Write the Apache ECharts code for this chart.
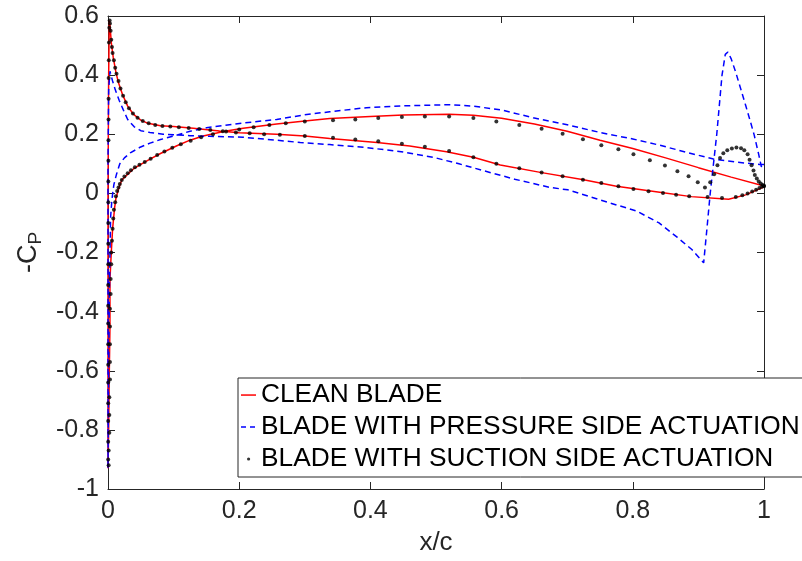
<!DOCTYPE html>
<html>
<head>
<meta charset="utf-8">
<script src="https://cdn.jsdelivr.net/npm/echarts@6/dist/echarts.min.js"></script>
<style>
  html, body { margin: 0; padding: 0; background: #fff; }
  #chart { width: 802px; height: 561px; }
</style>
</head>
<body>
<div id="chart"></div>
<script>
// -Cp along the chord, each branch runs leading edge -> trailing edge, pairs are [x/c, -Cp]
const seriesNames = ['CLEAN BLADE', 'BLADE WITH PRESSURE SIDE ACTUATION', 'BLADE WITH SUCTION SIDE ACTUATION'];

// clean blade: branch that rises from stagnation and ends as the upper curve
const cleanTop = [
  [0, -0.93], [0.001, -0.8], [0.002, -0.6], [0.003, -0.45], [0.003, -0.29], [0.005, -0.2],
  [0.007, -0.12], [0.01, -0.05], [0.012, -0.018], [0.016, 0.015], [0.021, 0.045], [0.03, 0.065],
  [0.04, 0.085], [0.05, 0.098], [0.064, 0.116], [0.08, 0.135], [0.105, 0.161], [0.125, 0.18],
  [0.145, 0.194], [0.178, 0.21], [0.206, 0.22], [0.257, 0.235], [0.3, 0.245], [0.338, 0.253],
  [0.4, 0.26], [0.45, 0.265], [0.52, 0.268], [0.557, 0.264], [0.6, 0.254], [0.65, 0.235],
  [0.7, 0.21], [0.75, 0.18], [0.8, 0.152], [0.85, 0.12], [0.9, 0.087], [0.95, 0.055], [1.0, 0.025]
];
// clean blade: branch with the suction peak, ends as the lower curve
const cleanBottom = [
  [0, -0.93], [0, -0.5], [0, 0], [0.001, 0.4], [0.002, 0.585], [0.003, 0.57], [0.005, 0.51],
  [0.008, 0.46], [0.012, 0.41], [0.016, 0.374], [0.022, 0.335], [0.03, 0.295], [0.039, 0.267],
  [0.05, 0.248], [0.061, 0.237], [0.08, 0.229], [0.1, 0.226], [0.13, 0.22], [0.17, 0.211],
  [0.2, 0.205], [0.257, 0.2], [0.3, 0.194], [0.338, 0.186], [0.41, 0.172], [0.46, 0.16],
  [0.516, 0.141], [0.557, 0.122], [0.598, 0.096], [0.659, 0.071], [0.725, 0.046], [0.775, 0.024],
  [0.841, 0.004], [0.889, -0.011], [0.946, -0.02], [0.972, -0.005], [1.0, 0.022]
];

// pressure side actuation
const pressTop = [
  [0, -0.93], [0.001, -0.6], [0.002, -0.35], [0.003, -0.2], [0.004, -0.08], [0.006, -0.02],
  [0.009, 0.03], [0.013, 0.065], [0.018, 0.1], [0.025, 0.12], [0.034, 0.137], [0.048, 0.155],
  [0.064, 0.17], [0.08, 0.182], [0.1, 0.194], [0.125, 0.21], [0.15, 0.222], [0.206, 0.238],
  [0.257, 0.25], [0.3, 0.266], [0.338, 0.276], [0.394, 0.29], [0.45, 0.296], [0.521, 0.3],
  [0.557, 0.295], [0.6, 0.282], [0.648, 0.256], [0.7, 0.232], [0.75, 0.206], [0.8, 0.184],
  [0.841, 0.163], [0.88, 0.14], [0.923, 0.116], [0.96, 0.105], [0.993, 0.098], [1.0, 0.098]
];
const pressBottom = [
  [0, -0.93], [0, -0.4], [0, 0.1], [0.001, 0.35], [0.003, 0.413], [0.007, 0.38], [0.011, 0.351],
  [0.017, 0.315], [0.023, 0.284], [0.03, 0.25], [0.04, 0.225], [0.05, 0.212], [0.064, 0.206],
  [0.084, 0.2], [0.105, 0.198], [0.125, 0.195], [0.155, 0.193], [0.206, 0.19], [0.257, 0.18],
  [0.293, 0.172], [0.338, 0.165], [0.394, 0.155], [0.45, 0.14], [0.496, 0.122], [0.535, 0.1],
  [0.572, 0.077], [0.62, 0.048], [0.674, 0.02], [0.701, 0.012], [0.75, -0.022], [0.806, -0.06],
  [0.84, -0.1], [0.868, -0.149], [0.89, -0.19], [0.908, -0.235], [0.913, -0.12], [0.918, 0.0],
  [0.923, 0.1], [0.928, 0.2], [0.932, 0.3], [0.936, 0.4], [0.941, 0.47], [0.945, 0.478],
  [0.95, 0.455], [0.957, 0.409], [0.965, 0.35], [0.972, 0.298], [0.979, 0.245], [0.985, 0.198],
  [0.992, 0.131], [0.996, 0.09], [1.0, 0.098]
];

// suction side actuation (markers only)
const suctTop = [
  [0.001, -0.92], [0.001, -0.87], [0.002, -0.81], [0.002, -0.75], [0.002, -0.69], [0.003, -0.63],
  [0.003, -0.57], [0.003, -0.51], [0.003, -0.45], [0.003, -0.39], [0.004, -0.34], [0.004, -0.29],
  [0.005, -0.24], [0.005, -0.2], [0.006, -0.16], [0.007, -0.12], [0.008, -0.085], [0.009, -0.055],
  [0.011, -0.03], [0.012, -0.01], [0.014, 0.008], [0.016, 0.02], [0.018, 0.032], [0.021, 0.045],
  [0.025, 0.057], [0.03, 0.068], [0.035, 0.078], [0.041, 0.088], [0.048, 0.097], [0.056, 0.106],
  [0.065, 0.117], [0.075, 0.13], [0.086, 0.142], [0.098, 0.154], [0.111, 0.166], [0.126, 0.178],
  [0.142, 0.19], [0.16, 0.2], [0.18, 0.209], [0.2, 0.216], [0.222, 0.224], [0.246, 0.231],
  [0.271, 0.237], [0.3, 0.243], [0.343, 0.247], [0.377, 0.25], [0.412, 0.255], [0.448, 0.258],
  [0.483, 0.26], [0.52, 0.26], [0.557, 0.255], [0.592, 0.243], [0.627, 0.231], [0.661, 0.219],
  [0.693, 0.202], [0.724, 0.183], [0.752, 0.163], [0.778, 0.149], [0.801, 0.132], [0.826, 0.112],
  [0.849, 0.094], [0.868, 0.075], [0.885, 0.058], [0.899, 0.038], [0.91, 0.02], [0.918, 0.038],
  [0.924, 0.065], [0.929, 0.095], [0.933, 0.12], [0.938, 0.136], [0.944, 0.146], [0.951, 0.152],
  [0.958, 0.155], [0.965, 0.153], [0.97, 0.146], [0.975, 0.132], [0.978, 0.114], [0.981, 0.095],
  [0.984, 0.077], [0.986, 0.062], [0.989, 0.05], [0.992, 0.04], [0.995, 0.033], [0.998, 0.028],
  [1.0, 0.025]
];
const suctBottom = [
  [0.0003, -0.9], [0.0003, -0.84], [0.0003, -0.77], [0.0003, -0.71], [0.0003, -0.64], [0.0003, -0.58],
  [0.0003, -0.51], [0.0003, -0.44], [0.0003, -0.38], [0.0003, -0.31], [0.0004, -0.24], [0.0004, -0.17],
  [0.0004, -0.1], [0.0005, -0.03], [0.0005, 0.04], [0.0006, 0.11], [0.0007, 0.18], [0.0008, 0.25],
  [0.0009, 0.32], [0.001, 0.39], [0.0012, 0.45], [0.0015, 0.51], [0.002, 0.56], [0.0025, 0.585],
  [0.003, 0.575], [0.004, 0.55], [0.005, 0.52], [0.006, 0.495], [0.007, 0.475], [0.009, 0.45],
  [0.011, 0.425], [0.013, 0.405], [0.016, 0.38], [0.019, 0.355], [0.023, 0.33], [0.027, 0.308],
  [0.032, 0.288], [0.038, 0.27], [0.045, 0.256], [0.053, 0.245], [0.062, 0.237], [0.072, 0.231],
  [0.083, 0.228], [0.095, 0.226], [0.108, 0.224], [0.123, 0.221], [0.139, 0.218], [0.156, 0.214],
  [0.175, 0.21], [0.195, 0.206], [0.216, 0.203], [0.238, 0.2], [0.262, 0.198], [0.3, 0.194],
  [0.343, 0.188], [0.377, 0.182], [0.412, 0.176], [0.448, 0.168], [0.483, 0.158], [0.52, 0.143],
  [0.557, 0.122], [0.592, 0.1], [0.627, 0.085], [0.661, 0.071], [0.693, 0.058], [0.724, 0.046],
  [0.752, 0.035], [0.778, 0.024], [0.801, 0.015], [0.824, 0.007], [0.846, 0.001], [0.866, -0.005],
  [0.886, -0.01], [0.914, -0.012], [0.936, -0.016], [0.957, -0.012], [0.967, -0.006], [0.975, 0.0],
  [0.982, 0.006], [0.988, 0.012], [0.993, 0.018], [0.997, 0.022], [1.0, 0.025]
];

const xRange = [0, 1, 0.2];
const yRange = [-1, 0.6, 0.2];

const FONT = 'Liberation Sans, Arial, Helvetica, sans-serif';
const AX = '#262626';

// legend glyphs; the leading moveTo points only pin the icon box so the mark keeps its size
const BOX = 'M0,0M15,0M0,12M15,12';
const ICON_SOLID = 'path://' + BOX + 'M0,5.3h15v1.5h-15z';
const ICON_DASH = 'path://' + BOX + 'M0,5.3h5v1.5h-5zM9,5.3h5v1.5h-5z';
const ICON_DOT = 'path://' + BOX + 'M6,6a1.6,1.6 0 1,0 3.2,0a1.6,1.6 0 1,0 -3.2,0z';

// closed loop: walk the top branch back to the stagnation point, then out along the bottom one
const loop = (top, bottom) => top.slice().reverse().concat(bottom);

const myChart = echarts.init(document.getElementById('chart'), null, {renderer: 'canvas'});

const axisCommon = {
  type: 'value',
  axisLine: {show: true, onZero: false, lineStyle: {color: AX, width: 1}},
  axisTick: {show: true, inside: true, length: 7, lineStyle: {color: AX}},
  splitLine: {show: false},
};

myChart.setOption({
  animation: false,
  backgroundColor: '#fff',
  grid: {left: 108, right: 38, top: 16, bottom: 69, containLabel: false},
  xAxis: [
    {
      ...axisCommon,
      position: 'bottom',
      min: xRange[0], max: xRange[1], interval: xRange[2],
      axisLabel: {fontSize: 25, color: AX, fontFamily: FONT, margin: 10},
      name: 'x/c',
      nameLocation: 'middle',
      nameGap: 41,
      nameTextStyle: {fontSize: 26, color: AX, fontFamily: FONT},
    },
    {
      ...axisCommon,
      position: 'top',
      min: xRange[0], max: xRange[1], interval: xRange[2],
      axisLabel: {show: false},
    }
  ],
  yAxis: [
    {
      ...axisCommon,
      position: 'left',
      min: yRange[0], max: yRange[1], interval: yRange[2],
      axisLabel: {fontSize: 25, color: AX, fontFamily: FONT, margin: 9},
      name: '{m|-C}{s|P}',
      nameLocation: 'middle',
      nameGap: 56,
      nameTextStyle: {
        color: AX, fontFamily: FONT,
        rich: {
          m: {fontSize: 27, color: AX, fontFamily: FONT},
          s: {fontSize: 19, color: AX, fontFamily: FONT, padding: [14, 0, 0, 0]},
        }
      },
    },
    {
      ...axisCommon,
      position: 'right',
      min: yRange[0], max: yRange[1], interval: yRange[2],
      axisLabel: {show: false},
    }
  ],
  legend: {
    orient: 'vertical',
    left: 238,
    top: 378,
    padding: [4, 3, 5, 3],
    itemGap: 6,
    itemWidth: 15,
    itemHeight: 12,
    backgroundColor: '#fff',
    borderColor: AX,
    borderWidth: 1,
    borderRadius: 0,
    textStyle: {fontSize: 26.3, color: '#000', fontFamily: FONT, lineHeight: 26},
    data: [
      {name: seriesNames[0], icon: ICON_SOLID},
      {name: seriesNames[1], icon: ICON_DASH},
      {name: seriesNames[2], icon: ICON_DOT},
    ],
  },
  series: [
    {
      name: seriesNames[0],
      type: 'line',
      symbol: 'none',
      data: loop(cleanTop, cleanBottom),
      lineStyle: {color: '#ff0000', width: 1.5},
      itemStyle: {color: '#ff0000'},
      z: 2,
    },
    {
      name: seriesNames[1],
      type: 'line',
      symbol: 'none',
      data: loop(pressTop, pressBottom),
      lineStyle: {color: '#0000ff', width: 1.5, type: [6, 4]},
      itemStyle: {color: '#0000ff'},
      z: 3,
    },
    {
      name: seriesNames[2],
      type: 'scatter',
      symbol: 'circle',
      symbolSize: 4,
      data: suctTop.concat(suctBottom),
      itemStyle: {color: '#000'},
      z: 4,
    }
  ]
});
</script>
</body>
</html>
